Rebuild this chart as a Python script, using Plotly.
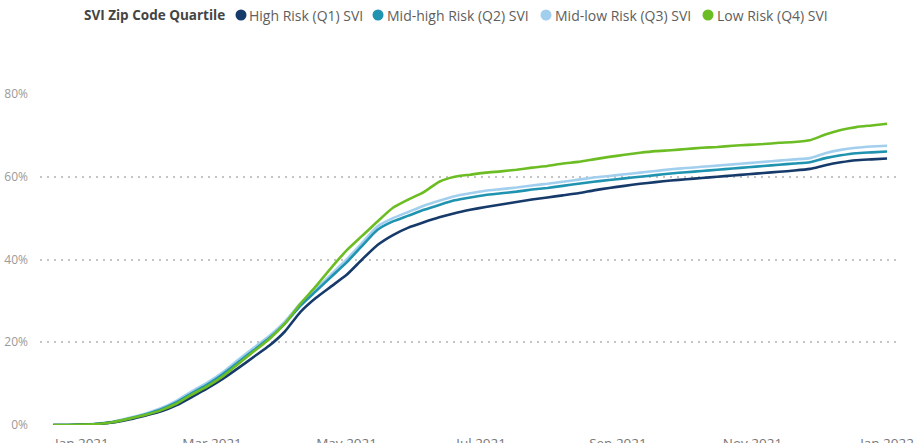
import datetime as dt
import plotly.graph_objects as go

# Weekly reporting dates (Dec 19, 2020 .. Jan 1, 2022)
start = dt.date(2020, 12, 19)
dates = [start + dt.timedelta(days=7 * k) for k in range(55)]

legend_title = "SVI Zip Code Quartile"
series_names = [
    "High Risk (Q1) SVI",
    "Mid-high Risk (Q2) SVI",
    "Mid-low Risk (Q3) SVI",
    "Low Risk (Q4) SVI",
]

q1_high = [0, 0, 0.1, 0.3, 0.7, 1.4, 2.3, 3.3, 4.8, 6.8, 8.9, 11.2, 13.8, 16.5, 19.2,
           22.6, 27.3, 30.7, 33.5, 36.3, 40.0, 43.5, 45.9, 47.7, 49.0, 50.2, 51.2,
           52.0, 52.7, 53.3, 53.9, 54.5, 55.0, 55.5, 56.0, 56.7, 57.3, 57.8, 58.3,
           58.7, 59.1, 59.4, 59.7, 60.0, 60.3, 60.6, 60.9, 61.2, 61.5, 61.9, 62.8,
           63.5, 64.0, 64.2, 64.4]
q2_midhigh = [0, 0, 0.1, 0.3, 0.8, 1.6, 2.6, 3.8, 5.5, 7.7, 9.8, 12.3, 15.2, 18.1,
              21.0, 24.5, 28.8, 32.3, 35.8, 39.3, 43.3, 47.2, 49.2, 50.6, 52.0, 53.2,
              54.3, 55.0, 55.6, 56.0, 56.4, 56.9, 57.3, 57.8, 58.3, 58.8, 59.2, 59.6,
              60.0, 60.4, 60.8, 61.1, 61.4, 61.7, 62.0, 62.3, 62.6, 62.9, 63.2, 63.5,
              64.5, 65.2, 65.7, 65.9, 66.1]
q3_midlow = [0, 0, 0.1, 0.4, 0.9, 1.8, 2.8, 4.1, 5.9, 8.2, 10.3, 12.8, 15.8, 18.7,
             21.6, 25.0, 29.3, 32.8, 36.4, 40.0, 44.0, 48.0, 50.0, 51.5, 53.0, 54.2,
             55.3, 56.0, 56.6, 57.0, 57.4, 57.9, 58.3, 58.8, 59.3, 59.8, 60.2, 60.6,
             61.0, 61.4, 61.8, 62.1, 62.4, 62.7, 63.0, 63.3, 63.6, 63.9, 64.2, 64.5,
             65.7, 66.5, 67.0, 67.3, 67.5]
q4_low = [0, 0, 0.1, 0.3, 0.8, 1.6, 2.5, 3.6, 5.2, 7.4, 9.4, 11.8, 14.8, 17.8, 20.8,
          24.5, 29.3, 33.5, 38.0, 42.2, 45.7, 49.2, 52.5, 54.5, 56.3, 58.8, 60.0,
          60.5, 61.0, 61.3, 61.7, 62.2, 62.6, 63.2, 63.6, 64.2, 64.8, 65.3, 65.8,
          66.2, 66.4, 66.7, 67.0, 67.2, 67.5, 67.7, 67.9, 68.2, 68.4, 68.8, 70.2,
          71.3, 72.0, 72.4, 72.8]

y_ticks = [0, 0.2, 0.4, 0.6, 0.8]
y_tick_labels = ["0%", "20%", "40%", "60%", "80%"]

colors = ["#163a6a", "#1f93b0", "#a3cfee", "#6cbd23"]
all_series = [q1_high, q2_midhigh, q3_midlow, q4_low]

W, H = 915, 443
M = dict(l=40, r=18, t=94, b=18)
pw = W - M["l"] - M["r"]
ph = H - M["t"] - M["b"]


def px_x(x):
    return (x - M["l"]) / pw


def px_y(y):
    return (H - M["b"] - y) / ph


fig = go.Figure()
order = [2, 1, 0, 3]
for i in order:
    fig.add_trace(go.Scatter(
        x=dates, y=[v / 100 for v in all_series[i]], mode="lines",
        line=dict(color=colors[i], width=2.6, shape="spline", smoothing=0.5),
        name=series_names[i], showlegend=False,
        hovertemplate="%{x|%b %d, %Y}: %{y:.1%}<extra>" + series_names[i] + "</extra>",
    ))

# Legend drawn as header row (title + colored dots + labels)
legend_y = px_y(15)
annotations = [dict(
    text="<b>" + legend_title + "</b>", xref="paper", yref="paper",
    x=px_x(82), y=legend_y, xanchor="left", yanchor="middle", showarrow=False,
    font=dict(size=13.5, color="#444444"),
)]
shapes = []
dot_x = [241, 378, 546, 708]
text_x = [247, 385, 553, 715]
for i in range(4):
    shapes.append(dict(
        type="circle", xref="paper", yref="paper", xsizemode="pixel", ysizemode="pixel",
        xanchor=px_x(dot_x[i]), yanchor=legend_y, x0=-5.5, x1=5.5, y0=-5.5, y1=5.5,
        fillcolor=colors[i], line=dict(width=0),
    ))
    annotations.append(dict(
        text=series_names[i], xref="paper", yref="paper",
        x=px_x(text_x[i]), y=legend_y, xanchor="left", yanchor="middle", showarrow=False,
        font=dict(size=14, color="#605e5c"),
    ))

fig.update_layout(
    width=W, height=H,
    margin=M,
    paper_bgcolor="white", plot_bgcolor="white",
    font=dict(family="Open Sans, Noto Sans, sans-serif", size=13, color="#666666"),
    showlegend=False,
    annotations=annotations,
    shapes=shapes,
    xaxis=dict(
        range=[dt.date(2020, 12, 13), dt.datetime(2022, 1, 5, 12)],
        tick0="2021-01-01", dtick="M2", tickformat="%b %Y",
        showgrid=False, zeroline=False, showline=False, ticks="",
        ticklabelstandoff=8, automargin=False,
        tickfont=dict(size=13.5, color="#777777"),
    ),
    yaxis=dict(
        range=[0, 0.8], tickvals=y_ticks, ticktext=y_tick_labels,
        showgrid=True, gridcolor="#c4c4c4", gridwidth=1.5, griddash="2px,5px",
        zeroline=False, showline=False, ticks="", ticklabelstandoff=11,
        automargin=False, tickfont=dict(size=12, color="#9a9a9a"),
    ),
)

fig.write_html("out.html", config={"displayModeBar": False},
               post_script="document.body.style.margin='0';")
